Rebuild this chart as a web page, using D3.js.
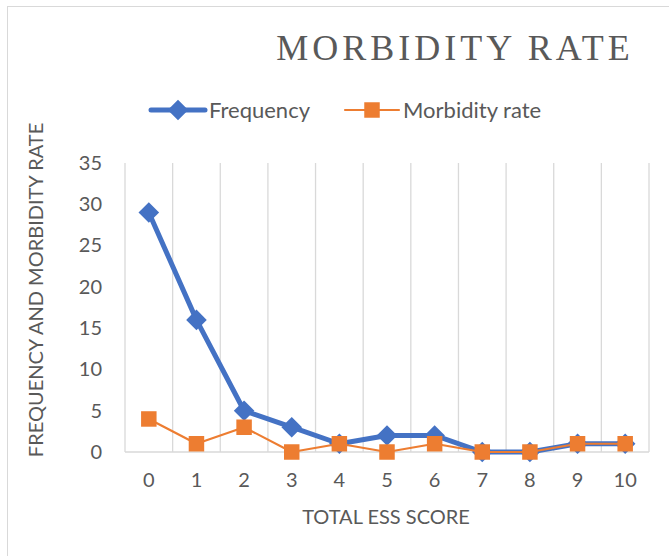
<!DOCTYPE html>
<html>
<head>
<meta charset="utf-8">
<script src="https://cdn.jsdelivr.net/npm/d3@7"></script>
<style>
  body { margin: 0; background: #fff; }
  text { fill: #595959; }
</style>
</head>
<body>
<div id="chart"></div>
<script>
// data
const scores = ['0', '1', '2', '3', '4', '5', '6', '7', '8', '9', '10'];
const frequency = [29, 16, 5, 3, 1, 2, 2, 0, 0, 1, 1];
const morbidity = [4, 1, 3, 0, 1, 0, 1, 0, 0, 1, 1];
const yTicks = [0, 5, 10, 15, 20, 25, 30, 35];

const width = 669;
const height = 556;
const plot = { left: 125, right: 649, top: 163, bottom: 452 };

const blue = '#4472C4';
const orange = '#ED7D31';
const grid = '#d9d9d9';
const sans = 'Lato, "Open Sans", sans-serif';

const $svg = d3.select('#chart').append('svg')
  .attr('width', width)
  .attr('height', height);

// chart frame
$svg.append('rect')
  .attr('x', 7.5).attr('y', 6.5)
  .attr('width', width + 20).attr('height', height + 20)
  .attr('fill', 'none').attr('stroke', grid);

// scales
const scaleX = d3.scaleBand().domain(scores).range([plot.left, plot.right]);
const scaleY = d3.scaleLinear().domain([0, 35]).range([plot.bottom, plot.top]);
const cx = d => scaleX(d) + scaleX.bandwidth() / 2;

// vertical gridlines at band edges
const edges = scores.map(s => scaleX(s)).concat([plot.right]);
$svg.append('g').selectAll('line')
  .data(edges)
  .join('line')
  .attr('x1', d => d).attr('x2', d => d)
  .attr('y1', plot.top).attr('y2', plot.bottom)
  .attr('stroke', grid).attr('stroke-width', 1.3);

// baseline
$svg.append('line')
  .attr('x1', plot.left).attr('x2', plot.right)
  .attr('y1', plot.bottom).attr('y2', plot.bottom)
  .attr('stroke', grid).attr('stroke-width', 1.5);

// y axis
const $yAxis = $svg.append('g')
  .attr('transform', `translate(${plot.left}, 0)`)
  .call(d3.axisLeft(scaleY).tickValues(yTicks).tickSize(0).tickPadding(23));
$yAxis.select('.domain').remove();
$yAxis.selectAll('text').style('font-family', sans).style('font-size', '20px').attr('fill', '#595959');

// x axis
const $xAxis = $svg.append('g')
  .attr('transform', `translate(0, ${plot.bottom})`)
  .call(d3.axisBottom(scaleX).tickSize(0).tickPadding(21));
$xAxis.select('.domain').remove();
$xAxis.selectAll('text').style('font-family', sans).style('font-size', '20px').attr('fill', '#595959');

// axis titles
$svg.append('text')
  .attr('x', 386).attr('y', 524)
  .attr('text-anchor', 'middle')
  .style('font-family', sans).style('font-size', '20px')
  .text('TOTAL ESS SCORE');

$svg.append('text')
  .attr('transform', 'translate(43, 290) rotate(-90)')
  .attr('text-anchor', 'middle')
  .style('font-family', sans).style('font-size', '20px')
  .text('FREQUENCY AND MORBIDITY RATE');

// title
$svg.append('text')
  .attr('x', 455).attr('y', 60)
  .attr('text-anchor', 'middle')
  .style('font-family', '"Liberation Serif", "DejaVu Serif", serif')
  .style('font-size', '36px')
  .style('letter-spacing', '4px')
  .text('MORBIDITY RATE');

// markers
const diamond = d3.symbol().type(d3.symbolDiamond2).size(270);
const square = d3.symbol().type(d3.symbolSquare).size(240);

const line = d3.line().x((d, i) => cx(scores[i])).y(d => scaleY(d));

// frequency series
$svg.append('path')
  .datum(frequency)
  .attr('d', line)
  .attr('fill', 'none').attr('stroke', blue)
  .attr('stroke-width', 5).attr('stroke-linejoin', 'round');
$svg.append('g').selectAll('path')
  .data(frequency)
  .join('path')
  .attr('transform', (d, i) => `translate(${cx(scores[i])}, ${scaleY(d)})`)
  .attr('d', diamond)
  .attr('fill', blue);

// morbidity series
$svg.append('path')
  .datum(morbidity)
  .attr('d', line)
  .attr('fill', 'none').attr('stroke', orange)
  .attr('stroke-width', 2.2).attr('stroke-linejoin', 'round');
$svg.append('g').selectAll('path')
  .data(morbidity)
  .join('path')
  .attr('transform', (d, i) => `translate(${cx(scores[i])}, ${scaleY(d)})`)
  .attr('d', square)
  .attr('fill', orange);

// legend
const legend = [
  { name: 'Frequency', color: blue, x: 151, w: 5, sym: diamond },
  { name: 'Morbidity rate', color: orange, x: 345, w: 2.2, sym: square },
];
const $legend = $svg.append('g').selectAll('g')
  .data(legend)
  .join('g')
  .attr('transform', d => `translate(${d.x}, 110)`);
$legend.append('line')
  .attr('x1', 0).attr('x2', 54)
  .attr('stroke', d => d.color).attr('stroke-width', d => d.w)
  .attr('stroke-linecap', 'round');
$legend.append('path')
  .attr('transform', 'translate(27, 0)')
  .attr('d', d => d.sym())
  .attr('fill', d => d.color);
$legend.append('text')
  .attr('x', 58).attr('y', 7.5)
  .style('font-family', sans).style('font-size', '22px')
  .text(d => d.name);
</script>
</body>
</html>
